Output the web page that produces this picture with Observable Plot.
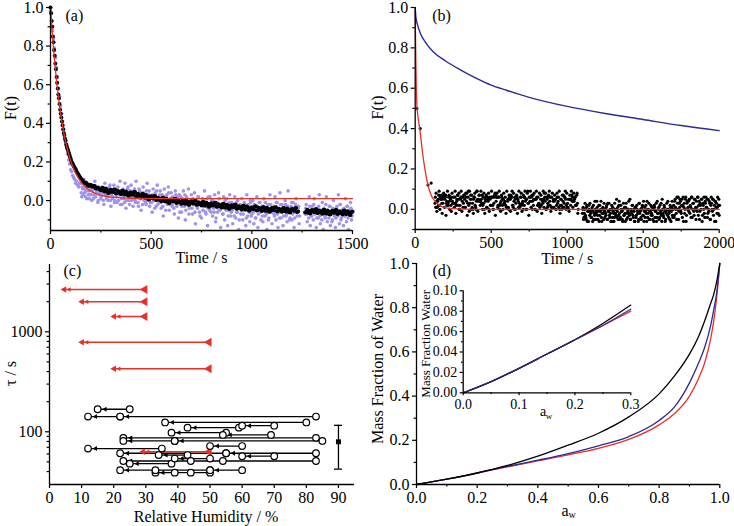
<!DOCTYPE html>
<html><head><meta charset="utf-8">
<script src="https://cdn.jsdelivr.net/npm/d3@7"></script>
<script src="https://cdn.jsdelivr.net/npm/@observablehq/plot@0.6"></script>
<style>
body{margin:0;background:#fff;}
#root{position:relative;width:734px;height:526px;overflow:hidden;background:#fff;}
#root > div{position:absolute;}
</style></head><body><div id="root"></div>
<script>
// ================= DATA =================
// ---- Panel (a): F(t) vs time ----
const aTicksX = [0, 500, 1000, 1500], aMinorX = [250, 750, 1250];
const aTicksY = [0, 0.2, 0.4, 0.6, 0.8, 1.0], aMinorY = [-0.1, 0.1, 0.3, 0.5, 0.7, 0.9];
// black data, early part every 3 s from t = 0
const aBlackEarlyStep = 3;
const aBlackEarly = [1.00, 0.97, 0.93, 0.90, 0.85, 0.82, 0.78, 0.75, 0.71, 0.68,
  0.64, 0.61, 0.58, 0.55, 0.53, 0.50, 0.47, 0.45, 0.43, 0.41,
  0.39, 0.37, 0.35, 0.34, 0.32, 0.31, 0.29, 0.28, 0.27, 0.26,
  0.25, 0.24, 0.23, 0.22, 0.21, 0.20, 0.195, 0.19, 0.18, 0.175,
  0.17, 0.165, 0.16, 0.15, 0.145, 0.14, 0.135, 0.13, 0.125, 0.12, 0.115];
// black data, later part every 10 s from t = 160 and from t = 165 (values x1000; null = gap)
const aBlackLateStart = 160, aBlackLate2Start = 165, aBlackLateStep = 10;
const aBlackLateMilli = [105, 89, 89, 76, 81, 71, 75, 62, 63, 54,
  67, 47, 56, 39, 56, 44, 58, 39, 45, 33,
  51, 32, 41, 25, 42, 31, 44, 24, 29, 16,
  34, 14, 23, 6, 23, 11, 24, 4, 9, -4,
  15, -5, 5, -12, 6, -5, 9, -10, -4, -16,
  3, -16, -6, -22, -4, -15, -1, -20, -14, -26,
  -7, -26, -16, -32, -14, -25, -11, -30, -24, -36,
  -17, -36, -26, -42, -24, -35, -21, -40, -34, -46,
  -27, -46, -36, -52, -34, -45, -30, -49, -42, -54,
  -34, -53, -42, -58, -39, -50, -35, -54, -47, -58,
  -39, -57, -46, -62, -43, -53, -39, -57, null, null,
  null, -62, -52, -67, -49, -59, -45, -63, -57, -68,
  -48, -67, -56, -72, -53, -63, -49, -67, -60, -72,
  -52, -70, -60, -75, -56];
const aBlackLate2Milli = [93, 94, 80, 82, 74, 76, 63, 66, 58, 62,
  50, 62, 41, 54, 46, 57, 37, 50, 39, 51,
  34, 47, 26, 40, 32, 44, 23, 35, 23, 34,
  17, 29, 8, 21, 13, 24, 3, 15, 3, 14,
  -2, 10, -10, 3, -4, 8, -12, 1, -10, 2,
  -14, -1, -21, -7, -14, -2, -22, -9, -20, -8,
  -24, -11, -31, -17, -24, -12, -32, -19, -30, -18,
  -34, -21, -41, -27, -34, -22, -42, -29, -40, -28,
  -44, -31, -51, -37, -44, -31, -51, -37, -48, -35,
  -51, -37, -57, -42, -49, -36, -56, -42, -52, -40,
  -55, -41, -61, -46, -52, -40, -59, null, null, null,
  -60, -47, -66, -52, -58, -46, -65, -52, -62, -49,
  -65, -51, -71, -56, -62, -50, -69, -55, -66, -53,
  -68, -55, -74, -59];
// purple data every 5 s from t = 0, and every 5 s from t = 152.5 (values x100; null = gap)
const aPurpleStep = 5, aPurple2Start = 152.5;
const aPurpleHund = [98, 93, 88, 84, 79, 74, 69, 64, 58, 54,
  49, 45, 41, 37, 33, 30, 27, 24, 21, 19,
  16, 15, 13, 12, 11, 9, 10, 8, 7, 9,
  9, 2, 6, 11, 4, 7, 1, 8, 5, 3,
  6, 0, 8, 3, 10, 2, 5, -1, 7, 4,
  1, 7, 4, -2, 9, 3, 6, 0, 5, 8,
  -3, 5, 2, 8, 0, 4, -1, 7, 3, 10,
  4, -2, 6, 1, 9, -4, 3, 7, 0, 5,
  8, 2, -3, 5, 0, 10, 3, -1, 6, 1,
  -5, 4, 7, 0, 3, -2, 9, 1, 5, -1,
  2, -6, 6, 0, 4, -3, 8, 1, -1, 5,
  -4, 3, -8, 6, 0, 2, -2, 7, -5, 1,
  4, -3, 0, -7, 5, -1, 2, -9, 3, -2,
  -6, 1, 5, -3, -10, 2, -1, 6, -4, 0,
  3, -7, -2, 4, -12, 0, -4, 2, -6, -1,
  -9, 1, -3, 5, -6, -1, -13, 2, -5, -2,
  0, -8, -4, 3, -11, -1, -6, 4, -3, -14,
  -2, -7, 2, -10, -4, 1, -13, -5, 3, -8,
  -1, -12, -4, 2, -9, -6, 0, -15, -3, -7,
  1, -10, -5, -2, -13, 3, -8, -4, -11, -1,
  -7, 0, -12, -3, -9, 2, -14, -5, -1, -10,
  -3, -11, 1, -8, -6, -15, -2, -9, 3, -5,
  -12, -4, -7, 2, -10, -1, -14, -6, 4, -9,
  -2, -13, -5, 0, -8, -11, 5, -4, -9, -3,
  -10, -1, -14, -6, 1, -8, -4, -12, null, null,
  null, null, null, -7, -2, -11, -5, 2, -13, -8,
  -3, -10, 1, -6, -14, -4, -9, 3, -12, -7,
  -1, -15, -5, -9, 2, -11, -7, -3, -13, -6,
  -10, 0, -8, -14, -4, -6, 3, -12, -2, -9,
  -5, -13, -8, 1, -11, -3, -15, -7, -1, -10,
  -6];
const aPurple2Hund = [4, 7, 3, 6, 2, 5, 8, 3, 1, 6,
  3, 5, 1, 6, 2, 4, 7, 0, 3, 5,
  2, 4, 0, 6, 3, 1, 5, 2, 7, 0,
  3, 1, 5, -1, 4, 2, 6, 0, 3, -2,
  1, 5, 2, -1, 4, 0, 6, 2, -2, 3,
  0, 4, 1, 6, -1, 3, 2, -3, 5, 1,
  2, -2, 4, 1, -1, 5, 0, 3, -3, 2,
  -1, 3, 0, -4, 2, 5, -2, 1, 3, -1,
  1, -3, 2, 0, -5, 3, -1, 4, -2, 0,
  -2, 2, -4, 0, 3, -3, 1, -1, -6, 2,
  -3, 0, -1, 3, -5, 1, -2, -7, 0, -1,
  -4, 1, -2, -6, 0, -3, 2, -1, -8, -2,
  -1, -5, 0, -3, -7, 1, -4, -2, 2, -6,
  -3, 0, -6, -2, -9, -1, -4, 1, -5, -3,
  -2, -7, -4, 0, -5, -3, -8, -1, -4, -6,
  -5, -2, -8, -3, -1, -6, -4, -10, -2, -5,
  -3, -7, -1, -5, -9, -4, -2, -6, 0, -8,
  -4, -6, -2, -9, -5, -3, -7, -1, -6, -4,
  -8, -3, -5, -1, -7, -4, -10, -6, -2, -5,
  -6, -3, -8, -5, -1, -7, -4, -9, -2, -6,
  -4, -8, -5, -2, -7, -3, -6, -10, -5, -1,
  -7, -4, -9, -2, -6, -5, -3, -8, null, null,
  null, null, null, -4, -7, -5, -9, -3, -6, -8,
  -5, -2, -7, -4, -9, -6, -3, -8, -5, -10,
  -6, -4, -8, -2, -7, -5, -9, -3, -6, -11,
  -4, -7, -5, -9, -3, -8, -6, -2, -10, -5,
  -7, -4, -8, -6, -3, -9, -5, -7, -4, -8];
const aFitT = [0, 10, 20, 30, 40, 50, 60, 70, 80, 90, 100, 120, 140, 160, 180, 200, 250, 300, 400, 500, 1500];
const aFitF = [1.00, 0.853, 0.727, 0.620, 0.530, 0.452, 0.386, 0.330, 0.282, 0.242, 0.207, 0.153, 0.114, 0.085, 0.064, 0.049, 0.028, 0.018, 0.012, 0.010, 0.010];

// ---- Panel (b) ----
const bTicksX = [0, 500, 1000, 1500, 2000], bMinorX = [250, 750, 1250, 1750];
const bTicksY = [0, 0.2, 0.4, 0.6, 0.8, 1.0], bMinorY = [-0.1, 0.1, 0.3, 0.5, 0.7, 0.9];
const bEarlyT = [11, 33, 84, 105];
const bEarlyF = [0.50, 0.40, 0.12, 0.13];
// black data every 5 s from t = 130 and from t = 132.5 (values x100; null = gap)
const bDotsStart = 130, bDots2Start = 132.5, bDotsStep = 5;
const bDotsHund = [3, 1, 4, 1, 5, 7, 2, 6, 5, 3,
  5, 6, 7, 5, 7, 3, 2, 3, 6, 4,
  6, 2, 6, 4, 3, 3, 6, 3, 2, 5,
  7, 5, 0, 2, 6, 6, 4, 1, 7, 5,
  1, 6, 8, 3, 9, -1, 3, 7, 5, 1,
  0, 5, 6, 2, 0, 9, 5, 4, 7, 4,
  4, 5, 7, 2, 3, 0, 5, 6, 1, 6,
  4, 0, 6, 2, 6, 6, 2, 0, 6, 8,
  7, 6, 6, 2, 6, 0, 3, 4, 6, 2,
  5, 3, 4, 2, 1, 1, 5, 0, 6, 5,
  7, 6, 2, 1, 4, 6, 0, 6, 6, 5,
  1, 3, 2, 6, 2, 3, 0, 6, 6, 4,
  5, 0, 9, 3, 6, 4, 4, 6, 0, 7,
  5, 5, 0, 5, 6, 2, 2, 3, 1, 5,
  2, 5, 3, 5, 8, 4, 0, 6, 1, 2,
  6, 4, 6, 1, 1, 1, 5, 4, 5, 0,
  2, 6, 4, 1, 0, 2, 5, 0, 1, 7,
  3, 6, 5, 2, 1, 1, 0, 5, 5, 5,
  7, 6, 4, 4, 6, 2, 2, 8, -2,
  null, null, null, null, null,
  -2, 1, -4, 0, -3, -5, 2, -1, -6, 0,
  3, -2, -4, 1, -1, -5, -3, 0, -2, 4,
  -3, -1, -6, 2, 0, -4, -2, 1, -5, -1,
  0, -3, 2, -5, -1, 3, -4, -2, 0, -6,
  1, -2, -4, 0, -3, 5, -1, -5, 2, -2,
  -4, 0, -1, -6, 3, -3, -2, 1, -5, 0,
  -1, 4, -3, -5, 0, -2, 2, -4, -1, -6,
  1, -3, 0, -2, -5, 3, -1, -4, 0, 2,
  -3, -6, 1, -1, -2, 4, -4, 0, -5, -1,
  2, -2, -3, 0, -6, 1, -1, 3, -4, -2,
  0, -5, 2, -1, -3, 5, -2, -4, 1, -6,
  -1, 3, -3, 0, -2, -5, 1, -1, 4, -4,
  2, -3, 5, 0, -5, 3, 6, -1, 1, 4,
  -2, 5, 2, -6, 3, 0, 6, -3, 4, 1,
  -1, 5, 2, -4, 6, 0, 3, -3, 5, 1,
  4, -1, 6, 2, -5, 3, 0, 5, -3, 2,
  6, -4, 3, 1, 5, -2, 0, 4, -5, 2,
  3, -1, 5, 0, -6, 4, 1, -2, 6, 2,
  -3];
const bDots2Hund = [6, 8, -1, 4, 2, 9, 0, 5, 7, -2,
  3, 8, 1, 6, -3, 4, 9, 2, 7, 0,
  5, -1, 8, 3, 6, 1, 9, -2, 4, 7,
  2, 8, 0, 5, 9, -1, 6, 3, 7, 1,
  8, 4, -3, 6, 2, 9, 5, 0, 7, 3,
  -2, 6, 8, 1, 4, 9, -1, 5, 7, 2,
  9, 3, 0, 6, 8, -2, 4, 7, 1, 5,
  8, -1, 5, 2, 9, 6, 0, 3, 7, -3,
  4, 8, 1, 6, 9, 2, -1, 7, 5, 0,
  8, 3, 6, -2, 9, 4, 1, 7, 5, -1,
  6, 9, 2, 8, 0, 5, 3, 7, -2, 4,
  9, 1, 6, 8, -1, 4, 7, 2, 9, 0,
  5, 8, 3, -3, 6, 9, 1, 7, 4, 2,
  8, 0, 5, 9, -1, 6, 3, 8, 2, 7,
  -2, 4, 9, 1, 6, 8, 0, 5, 3, 7,
  9, 2, -1, 6, 8, 4, 1, 7, 5, 0,
  8, 3, 6, 9, -2, 5, 2, 7, 4, 1,
  6, 9, 0, 8, 3, 5, -1, 7, 2, 9,
  4, 1, 8, 5, 6, 2, 7, 3, 0,
  null, null, null, null, null,
  0, -5, -2, 3, -4, 1, -6, -1, 2, -3,
  -1, -4, 0, -6, 2, -2, 4, -5, -1, 1,
  -5, 2, -3, -1, 4, -6, 0, -2, 3, -4,
  -2, 1, -5, 3, -1, -3, 0, -6, 2, -4,
  -1, -6, 3, -2, 0, -4, 1, -3, 4, -5,
  2, -1, -5, 0, -3, 1, -6, 3, -2, -4,
  0, -2, 5, -5, -1, 2, -3, 0, -6, 1,
  -4, 2, -1, -6, 3, -2, 0, -5, 1, -3,
  4, -1, -4, 2, -6, 0, -2, 3, -5, -1,
  -3, 1, -5, 0, 2, -4, -1, -6, 4, -2,
  1, -4, -2, 3, -6, 0, -3, 2, -1, -5,
  -2, 0, 4, -4, -1, 2, -6, 1, -3, 0,
  -4, 4, 1, -2, 6, 0, -5, 3, 5, -1,
  2, -4, 6, 1, -2, 5, -6, 3, 0, 4,
  5, -2, 1, 6, -4, 3, -1, 5, 0, -5,
  1, 6, -3, 4, -1, 2, 5, -6, 3, 0,
  -2, 4, 6, 1, -4, 5, -1, 3, -5, 6,
  0, 5, -3, 2, 4, -6, 3, 1, -2, 5,
  2];
const bFitT = [0, 3, 7, 11, 20, 33, 50, 66, 84, 100, 120, 143, 180, 250, 400, 2000];
const bFitF = [0.98, 0.80, 0.62, 0.52, 0.45, 0.38, 0.27, 0.19, 0.12, 0.08, 0.05, 0.03, 0.012, 0.003, 0, 0];
const bSlowT = [0, 5, 15, 35, 70, 120, 200, 300, 400, 500, 600, 750, 1000, 1250, 1500, 1750, 2000];
const bSlowF = [1.0, 0.95, 0.915, 0.87, 0.825, 0.78, 0.735, 0.69, 0.65, 0.615, 0.59, 0.555, 0.51, 0.475, 0.445, 0.415, 0.39];

// ---- Panel (c): tau vs RH ----
const cTicksX = [0, 10, 20, 30, 40, 50, 60, 70, 80, 90];
const cTicksY = [100, 1000];
const cMinorY = [40, 50, 60, 70, 80, 90, 200, 300, 400, 500, 600, 700, 800, 900, 2000, 3000, 4000];
const cFrom = [25, 83, 22, 80, 70, 59, 55, 69, 83, 85, 39, 60, 35, 83, 55, 70, 43, 50, 83, 38, 60, 50, 50];
const cTo   = [15, 22, 12, 36, 60, 43, 38, 54, 23, 39, 23, 50, 12, 55, 22, 60, 34, 39, 23, 25, 50, 22, 33];
const cTau  = [168, 142, 142, 124, 115, 110, 98, 93, 87, 81, 81, 72, 68, 61, 61, 57, 58.5, 54, 51, 48, 41.3, 41.3, 39];
const cExtraRH  = [44, 54, 33, 39, 44];
const cExtraTau = [51, 51, 41.3, 39, 39];
const cRedFrom = [30, 30, 30, 50, 50, 50];
const cRedTo   = [4, 9.5, 19.5, 9.5, 19.5, 28.5];
const cRedTau  = [2650, 1995, 1423, 787, 427, 63];
const cMeanRH = [90], cMeanTau = [79.4], cErrLo = [42.3], cErrHi = [116];

// ---- Panel (d): mass fraction of water vs a_w ----
const dTicks = [0, 0.2, 0.4, 0.6, 0.8, 1.0], dMinor = [0.1, 0.3, 0.5, 0.7, 0.9];
const dAw    = [0, 0.1, 0.2, 0.3, 0.4, 0.5, 0.6, 0.7, 0.8, 0.85, 0.9, 0.93, 0.95, 0.97, 0.98, 0.99, 1.0];
const dBlack = [0, 0.024, 0.052, 0.086, 0.128, 0.178, 0.232, 0.306, 0.41, 0.49, 0.59, 0.67, 0.74, 0.82, 0.86, 0.92, 1.0];
const dBlue  = [0, 0.024, 0.052, 0.082, 0.11, 0.14, 0.175, 0.217, 0.29, 0.35, 0.46, 0.55, 0.62, 0.72, 0.79, 0.87, 1.0];
const dRed   = [0, 0.024, 0.052, 0.080, 0.107, 0.134, 0.164, 0.204, 0.27, 0.32, 0.40, 0.48, 0.55, 0.66, 0.74, 0.85, 1.0];
const iTicksX = [0, 0.1, 0.2, 0.3], iMinorX = [0.05, 0.15, 0.25];
const iTicksY = [0, 0.02, 0.04, 0.06, 0.08, 0.10], iMinorY = [0.01, 0.03, 0.05, 0.07, 0.09];
const iAw    = [0, 0.05, 0.1, 0.15, 0.2, 0.25, 0.3];
const iBlack = [0, 0.011, 0.024, 0.038, 0.052, 0.068, 0.086];
const iBlue  = [0, 0.011, 0.024, 0.038, 0.052, 0.066, 0.082];
const iRed   = [0, 0.011, 0.024, 0.038, 0.052, 0.066, 0.080];

// ================= BUILD =================
const FONT = "Liberation Serif, Times New Roman, serif";
const RED = "#e8302a", BLUE = "#2b2a97", PURPLE = "#9d93ee";
const root = document.getElementById("root");
function place(svg, left, top) {
  const d = document.createElement("div");
  d.style.left = left + "px"; d.style.top = top + "px";
  d.appendChild(svg); root.appendChild(d);
}
const style = (fs) => ({fontFamily: FONT, fontSize: fs + "px", background: "transparent", overflow: "visible", color: "black"});
const txt = (s, o) => Plot.text([s], {text: d => d, fill: "black", fontFamily: FONT, textAnchor: "middle", lineAnchor: "middle", ...o});
function axisMarks(o) {
  const fs = o.fs || 16, ts = o.ts || 4;
  return [
    Plot.ruleX([o.x0], {stroke: "black", strokeWidth: 1.3}),
    Plot.ruleY([o.y0], {stroke: "black", strokeWidth: 1.3}),
    Plot.axisX({ticks: o.xt, tickFormat: o.xf, tickSize: ts, tickPadding: 3, label: null, fontSize: fs, strokeWidth: 1.2}),
    Plot.axisX({ticks: o.xm || [], tickFormat: () => "", tickSize: ts * 0.6, label: null, strokeWidth: 1.2}),
    Plot.axisY({ticks: o.yt, tickFormat: o.yf, tickSize: ts, tickPadding: 3, label: null, fontSize: fs, strokeWidth: 1.2}),
    Plot.axisY({ticks: o.ym || [], tickFormat: () => "", tickSize: ts * 0.6, label: null, strokeWidth: 1.2})
  ];
}
const f1 = d3.format(".1f"), f2 = d3.format(".2f"), fd = d3.format("d");
const series = (arr, start, step, scale) => arr.map((v, i) => ({t: start + i * step, f: v == null ? null : v / scale})).filter(d => d.f != null);

// ---- (a) ----
const aBlack = [
  ...aBlackEarly.map((f, i) => ({t: i * aBlackEarlyStep, f})),
  ...series(aBlackLateMilli, aBlackLateStart, aBlackLateStep, 1000),
  ...series(aBlackLate2Milli, aBlackLate2Start, aBlackLateStep, 1000)
];
const aPurple = [...series(aPurpleHund, 0, aPurpleStep, 100), ...series(aPurple2Hund, aPurple2Start, aPurpleStep, 100)];
const aFit = aFitT.map((t, i) => ({t, f: aFitF[i]}));
place(Plot.plot({
  width: 367, height: 263, marginLeft: 50, marginRight: 15, marginTop: 7, marginBottom: 33,
  style: style(16),
  x: {domain: [0, 1500], label: null}, y: {domain: [-0.155, 1.0], label: null},
  marks: [
    Plot.dot(aPurple, {x: "t", y: "f", r: 1.8, fill: PURPLE}),
    Plot.dot(aBlack, {x: "t", y: "f", r: 2, fill: "black"}),
    Plot.line(aFit, {x: "t", y: "f", stroke: RED, strokeWidth: 1.3, curve: "monotone-x"}),
    ...axisMarks({x0: 0, y0: -0.155, xt: aTicksX, xm: aMinorX, xf: fd, yt: aTicksY, ym: aMinorY, yf: f1}),
    txt("(a)", {frameAnchor: "top-left", textAnchor: "start", dx: 15, dy: 8, fontSize: 16}),
    txt("Time / s", {frameAnchor: "bottom", dy: 27, fontSize: 16}),
    txt("F(t)", {frameAnchor: "left", rotate: -90, dx: -40, dy: -11, fontSize: 16})
  ]
}), 0, 0);

// ---- (b) ----
const bDots = [
  ...bEarlyT.map((t, i) => ({t, f: bEarlyF[i]})),
  ...series(bDotsHund, bDotsStart, bDotsStep, 100),
  ...series(bDots2Hund, bDots2Start, bDotsStep, 100)
];
const bFit = bFitT.map((t, i) => ({t, f: bFitF[i]}));
const bSlow = bSlowT.map((t, i) => ({t, f: bSlowF[i]}));
place(Plot.plot({
  width: 367, height: 263, marginLeft: 47.7, marginRight: 15.3, marginTop: 7, marginBottom: 34,
  style: style(16),
  x: {domain: [0, 2000], label: null}, y: {domain: [-0.1, 1.0], label: null},
  marks: [
    Plot.dot(bDots, {x: "t", y: "f", r: 1.6, fill: "black"}),
    Plot.line(bFit, {x: "t", y: "f", stroke: RED, strokeWidth: 1.3, curve: "monotone-x"}),
    Plot.line(bSlow, {x: "t", y: "f", stroke: BLUE, strokeWidth: 1.4, curve: "monotone-x"}),
    ...axisMarks({x0: 0, y0: -0.1, xt: bTicksX, xm: bMinorX, xf: fd, yt: bTicksY, ym: bMinorY, yf: f1}),
    txt("(b)", {frameAnchor: "top-left", textAnchor: "start", dx: 17, dy: 8, fontSize: 16}),
    txt("Time / s", {frameAnchor: "bottom", dy: 29, fontSize: 16}),
    txt("F(t)", {frameAnchor: "left", rotate: -90, dx: -37.7, dy: -11, fontSize: 16})
  ]
}), 367, 0);

// ---- (c) ----
const cSegs = cFrom.map((f, i) => ({from: f, to: cTo[i], tau: cTau[i]}));
const cCircles = [
  ...cSegs.map(s => ({rh: s.from, tau: s.tau})),
  ...cSegs.map(s => ({rh: s.to, tau: s.tau})),
  ...cExtraRH.map((r, i) => ({rh: r, tau: cExtraTau[i]}))
];
const cRed = cRedFrom.map((f, i) => ({from: f, to: cRedTo[i], tau: cRedTau[i]}));
const cMean = cMeanRH.map((r, i) => ({rh: r, tau: cMeanTau[i], lo: cErrLo[i], hi: cErrHi[i]}));
place(Plot.plot({
  width: 367, height: 276, marginLeft: 49, marginRight: 13, marginTop: 14, marginBottom: 42,
  style: style(16),
  x: {domain: [0, 95], label: null}, y: {type: "log", domain: [29.7, 4710], label: null},
  marks: [
    Plot.link(cSegs, {x1: "from", x2: "to", y1: "tau", y2: "tau", stroke: "black", strokeWidth: 1.3}),
    Plot.dot(cSegs, {x: "to", y: "tau", symbol: "triangle", rotate: -90, r: 1.8, fill: "black", dx: 7.5}),
    Plot.link(cRed, {x1: "from", x2: "to", y1: "tau", y2: "tau", stroke: RED, strokeWidth: 1.5}),
    Plot.dot(cRed, {x: "from", y: "tau", symbol: "triangle", rotate: -90, r: 3.3, fill: RED, dx: -1}),
    Plot.dot(cRed, {x: "to", y: "tau", symbol: "triangle", rotate: -90, r: 2.4, fill: RED, dx: 2}),
    Plot.dot(cRed, {x: "to", y: "tau", symbol: "triangle", rotate: -90, r: 1.7, fill: RED, dx: 7}),
    Plot.dot(cCircles, {x: "rh", y: "tau", r: 3.3, fill: "white", stroke: "black", strokeWidth: 1.2}),
    Plot.ruleX(cMean, {x: "rh", y1: "lo", y2: "hi", stroke: "black", strokeWidth: 1.3}),
    Plot.ruleY(cMean, {y: "lo", x1: "rh", x2: "rh", insetLeft: -4, insetRight: -4, stroke: "black", strokeWidth: 1.3}),
    Plot.ruleY(cMean, {y: "hi", x1: "rh", x2: "rh", insetLeft: -4, insetRight: -4, stroke: "black", strokeWidth: 1.3}),
    Plot.dot(cMean, {x: "rh", y: "tau", symbol: "square", r: 2.8, fill: "black"}),
    ...axisMarks({x0: 0, y0: 29.7, xt: cTicksX, xf: fd, yt: cTicksY, ym: cMinorY, yf: fd}),
    txt("(c)", {frameAnchor: "top-left", textAnchor: "start", dx: 14, dy: 6, fontSize: 16}),
    txt("Relative Humidity / %", {frameAnchor: "bottom", dx: 4, dy: 32, fontSize: 16}),
    txt("τ / s", {frameAnchor: "left", rotate: -90, dx: -39, dy: -1, fontSize: 16})
  ]
}), 0, 250);

// ---- (d) ----
const mk = (aw, w) => aw.map((a, i) => ({a, w: w[i]}));
place(Plot.plot({
  width: 367, height: 276, marginLeft: 49, marginRight: 14.7, marginTop: 13, marginBottom: 42,
  style: style(16),
  x: {domain: [0, 1], label: null}, y: {domain: [0, 1], label: null},
  marks: [
    Plot.line(mk(dAw, dRed), {x: "a", y: "w", stroke: RED, strokeWidth: 1.3, curve: "monotone-x"}),
    Plot.line(mk(dAw, dBlue), {x: "a", y: "w", stroke: BLUE, strokeWidth: 1.3, curve: "monotone-x"}),
    Plot.line(mk(dAw, dBlack), {x: "a", y: "w", stroke: "black", strokeWidth: 1.3, curve: "monotone-x"}),
    ...axisMarks({x0: 0, y0: 0, xt: dTicks, xm: dMinor, xf: f1, yt: dTicks, ym: dMinor, yf: f1}),
    txt("(d)", {frameAnchor: "top-left", textAnchor: "start", dx: 16, dy: 7, fontSize: 16}),
    txt("a", {frameAnchor: "bottom", dx: -3, dy: 26, fontSize: 16}),
    txt("w", {frameAnchor: "bottom", dx: 4, dy: 30, fontSize: 10}),
    txt("Mass Fraction of Water", {frameAnchor: "left", rotate: -90, dx: -39, dy: -5, fontSize: 16})
  ]
}), 367, 250);

// ---- (d) inset ----
place(Plot.plot({
  width: 220, height: 145, marginLeft: 42.7, marginRight: 9.7, marginTop: 10.3, marginBottom: 32.7,
  style: style(14),
  x: {domain: [0, 0.3], label: null}, y: {domain: [0, 0.10], label: null},
  marks: [
    Plot.line(mk(iAw, iRed), {x: "a", y: "w", stroke: RED, strokeWidth: 1.3, curve: "monotone-x"}),
    Plot.line(mk(iAw, iBlack), {x: "a", y: "w", stroke: "black", strokeWidth: 1.3, curve: "monotone-x"}),
    Plot.line(mk(iAw, iBlue), {x: "a", y: "w", stroke: BLUE, strokeWidth: 1.3, strokeOpacity: 0.85, curve: "monotone-x"}),
    ...axisMarks({x0: 0, y0: 0, xt: iTicksX, xm: iMinorX, xf: f1, yt: iTicksY, ym: iMinorY, yf: f2, fs: 14, ts: 3}),
    txt("a", {frameAnchor: "bottom", dx: -4, dy: 19, fontSize: 14}),
    txt("w", {frameAnchor: "bottom", dx: 2, dy: 23, fontSize: 9}),
    txt("Mass Fraction Water", {frameAnchor: "left", rotate: -90, dx: -37.7, dy: 2, fontSize: 13})
  ]
}), 420, 280);
</script></body></html>
